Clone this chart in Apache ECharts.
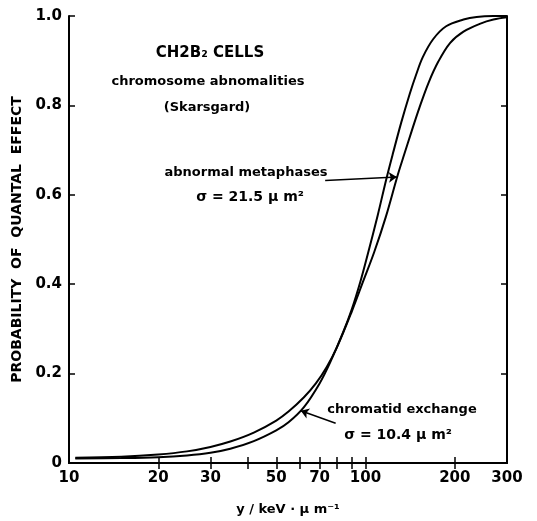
<!DOCTYPE html>
<html>
<head>
<meta charset="utf-8">
<script src="https://cdn.jsdelivr.net/npm/echarts@6/dist/echarts.min.js"></script>
<style>
    html, body { margin: 0; padding: 0; background: #fff; }
    #main { width: 537px; height: 521px; }
</style>
</head>
<body>
<div id="main"></div>
<script type="text/javascript">
    // chromatid exchange (sigma = 10.4 um2), the steeper curve
    var exchangeX = [10.5, 15, 20, 25, 30, 35, 42, 50, 55, 62, 70, 76, 84, 90, 96, 102, 110, 117.5, 124, 132, 141, 148, 156, 169, 187, 214, 237, 270, 300];
    var exchangeY = [0.010, 0.011, 0.013, 0.017, 0.023, 0.032, 0.049, 0.073, 0.091, 0.125, 0.178, 0.225, 0.292, 0.345, 0.405, 0.470, 0.555, 0.635, 0.695, 0.762, 0.826, 0.868, 0.908, 0.948, 0.977, 0.992, 0.998, 1.0, 1.0];
    // abnormal metaphases (sigma = 21.5 um2)
    var metaphaseX = [10.5, 15, 20, 25, 30, 35, 42, 50, 55, 62, 68, 74, 80, 90, 98, 107, 117, 128.5, 135, 143, 152, 163, 176, 193, 214, 244, 270, 300];
    var metaphaseY = [0.012, 0.014, 0.019, 0.026, 0.036, 0.048, 0.068, 0.095, 0.115, 0.147, 0.178, 0.215, 0.258, 0.340, 0.405, 0.472, 0.550, 0.645, 0.690, 0.742, 0.795, 0.850, 0.898, 0.940, 0.965, 0.983, 0.992, 0.997];

    var xLabelValues = [10, 20, 30, 50, 70, 100, 200, 300];
    var xTickValues = [20, 30, 40, 50, 60, 70, 80, 90, 100, 200];

    function pairs(xs, ys) {
        var out = [];
        for (var i = 0; i < xs.length; i++) {
            out.push([xs[i], ys[i]]);
        }
        return out;
    }

    var FONT = 'DejaVu Sans';
    var chart = echarts.init(document.getElementById('main'));

    function frameAxis(type, pos) {
        var ax = {
            type: type,
            position: pos,
            axisLine: { show: true, lineStyle: { color: '#000', width: 2 } },
            axisTick: { show: true, inside: true, length: 6, lineStyle: { color: '#000', width: 1.5 } },
            axisLabel: { show: false },
            splitLine: { show: false }
        };
        return ax;
    }

    var xBottom = frameAxis('log', 'bottom');
    xBottom.logBase = 10;
    xBottom.min = 10;
    xBottom.max = 300;
    xBottom.name = 'y / keV · μ m⁻¹';
    xBottom.nameLocation = 'middle';
    xBottom.nameGap = 40;
    xBottom.nameTextStyle = { fontFamily: FONT, fontWeight: 'bold', fontSize: 13, color: '#000' };
    xBottom.axisTick.customValues = xTickValues;
    xBottom.minorTick = { show: false };
    xBottom.axisLabel = {
        show: true, margin: 8, fontFamily: FONT, fontWeight: 'bold', fontSize: 15, color: '#000',
        customValues: xLabelValues,
        formatter: function (v) { return String(Math.round(v)); }
    };

    var xTop = frameAxis('log', 'top');
    xTop.logBase = 10;
    xTop.min = 10;
    xTop.max = 300;
    xTop.axisTick.customValues = xTickValues;

    var yLeft = frameAxis('value', 'left');
    yLeft.min = 0;
    yLeft.max = 1;
    yLeft.interval = 0.2;
    yLeft.name = 'PROBABILITY  OF  QUANTAL  EFFECT';
    yLeft.nameLocation = 'middle';
    yLeft.nameRotate = 90;
    yLeft.nameGap = 45;
    yLeft.nameTextStyle = { fontFamily: FONT, fontWeight: 'bold', fontSize: 14, color: '#000' };
    yLeft.axisLabel = {
        show: true, margin: 7, fontFamily: FONT, fontWeight: 'bold', fontSize: 15, color: '#000',
        formatter: function (v) { return v === 0 ? '0' : v.toFixed(1); }
    };

    var yRight = frameAxis('value', 'right');
    yRight.min = 0;
    yRight.max = 1;
    yRight.interval = 0.2;

    var arrowStyle = {
        silent: true,
        symbol: ['none', 'arrow'],
        symbolSize: 8,
        label: { show: false },
        lineStyle: { color: '#000', width: 1.5, type: 'solid' }
    };

    var option = {
        backgroundColor: '#fff',
        animation: false,
        grid: { left: 69, right: 30, top: 16, bottom: 58 },
        xAxis: [xBottom, xTop],
        yAxis: [yLeft, yRight],
        series: [
            {
                name: 'chromatid exchange',
                type: 'line',
                smooth: 0.35,
                showSymbol: false,
                data: pairs(exchangeX, exchangeY),
                lineStyle: { color: '#000', width: 2 },
                markLine: Object.assign({}, arrowStyle, {
                    data: [[{ coord: [79.3, 0.089] }, { coord: [60.5, 0.117] }]]
                })
            },
            {
                name: 'abnormal metaphases',
                type: 'line',
                smooth: 0.35,
                showSymbol: false,
                data: pairs(metaphaseX, metaphaseY),
                lineStyle: { color: '#000', width: 2 },
                markLine: Object.assign({}, arrowStyle, {
                    data: [[{ coord: [73.1, 0.632] }, { coord: [127.5, 0.64] }]]
                })
            }
        ],
        graphic: [
            { type: 'text', style: { text: 'CH2B₂ CELLS', x: 210, y: 53, align: 'center', verticalAlign: 'middle', font: 'bold 15px "DejaVu Sans"', fill: '#000' } },
            { type: 'text', style: { text: 'chromosome abnomalities', x: 208, y: 82, align: 'center', verticalAlign: 'middle', font: 'bold 13px "DejaVu Sans"', fill: '#000' } },
            { type: 'text', style: { text: '(Skarsgard)', x: 207, y: 108, align: 'center', verticalAlign: 'middle', font: 'bold 13px "DejaVu Sans"', fill: '#000' } },
            { type: 'text', style: { text: 'abnormal metaphases', x: 246, y: 173, align: 'center', verticalAlign: 'middle', font: 'bold 13px "DejaVu Sans"', fill: '#000' } },
            { type: 'text', style: { text: 'σ = 21.5 μ m²', x: 250, y: 197, align: 'center', verticalAlign: 'middle', font: 'bold 14px "DejaVu Sans"', fill: '#000' } },
            { type: 'text', style: { text: 'chromatid exchange', x: 402, y: 410, align: 'center', verticalAlign: 'middle', font: 'bold 13px "DejaVu Sans"', fill: '#000' } },
            { type: 'text', style: { text: 'σ = 10.4 μ m²', x: 398, y: 435, align: 'center', verticalAlign: 'middle', font: 'bold 14px "DejaVu Sans"', fill: '#000' } }
        ]
    };

    chart.setOption(option);
</script>
</body>
</html>
